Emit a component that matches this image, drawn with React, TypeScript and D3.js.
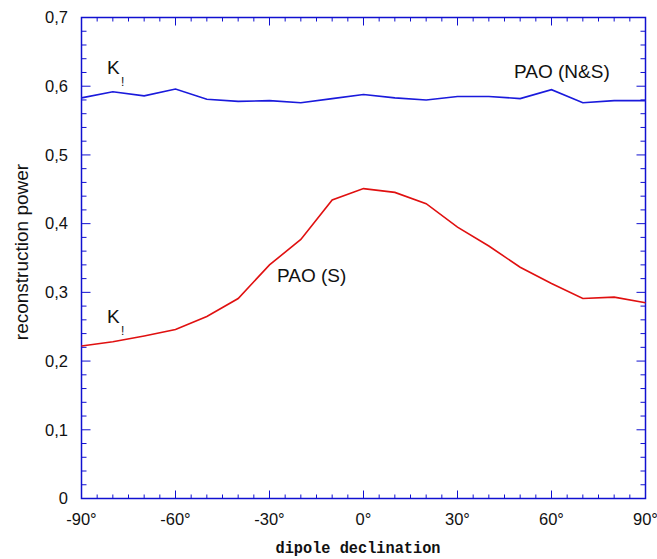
import React from "react";
import * as d3 from "d3";

const declinations = [-90, -80, -70, -60, -50, -40, -30, -20, -10, 0, 10, 20, 30, 40, 50, 60, 70, 80, 90];
const powerNS = [0.583, 0.592, 0.586, 0.596, 0.581, 0.578, 0.579, 0.576, 0.582, 0.588, 0.583, 0.580, 0.585, 0.585, 0.582, 0.595, 0.576, 0.579, 0.579];
const powerS = [0.222, 0.228, 0.2365, 0.246, 0.265, 0.291, 0.340, 0.377, 0.4345, 0.451, 0.4455, 0.429, 0.395, 0.3675, 0.3365, 0.313, 0.291, 0.293, 0.285];
const xTicks = [-90, -60, -30, 0, 30, 60, 90];
const yTicks = [0, 0.1, 0.2, 0.3, 0.4, 0.5, 0.6, 0.7];
const yTickLabels = ["0", "0,1", "0,2", "0,3", "0,4", "0,5", "0,6", "0,7"];

const W = 657, H = 559;
const L = 81.5, R = 645.5, T = 17.5, B = 498.5;
const AXIS = "#1010d0";

export default function App() {
  const x = d3.scaleLinear().domain([-90, 90]).range([L, R]);
  const y = d3.scaleLinear().domain([0, 0.7]).range([B, T]);
  const line = d3.line<number>().x((_, i) => x(declinations[i])).y((v) => y(v));
  const xMinor = d3.range(-90, 90.01, 5);
  const yMinor = d3.range(0, 0.7001, 0.02);
  const font = "Liberation Sans, Arial, sans-serif";
  return (
    <svg width={W} height={H} style={{ position: "absolute", left: 0, top: 0 }}>
      <rect x={0} y={0} width={W} height={H} fill="white" />
      <rect x={L} y={T} width={R - L} height={B - T} fill="none" stroke={AXIS} strokeWidth={1.5} />
      {xMinor.map((v) => {
        const major = Math.abs(v % 30) < 1e-6;
        const len = major ? 8 : 4;
        return (
          <g key={"xt" + v} stroke={AXIS} strokeWidth={1}>
            <line x1={x(v)} x2={x(v)} y1={B} y2={B - len} />
            <line x1={x(v)} x2={x(v)} y1={T} y2={T + len} />
          </g>
        );
      })}
      {yMinor.map((v, i) => {
        const major = i % 5 === 0;
        const len = major ? 9 : 5;
        return (
          <g key={"yt" + i} stroke={AXIS} strokeWidth={1}>
            <line x1={L} x2={L + len} y1={y(v)} y2={y(v)} />
            <line x1={R} x2={R - len} y1={y(v)} y2={y(v)} />
          </g>
        );
      })}
      {yTicks.map((v, i) => (
        <text key={"yl" + i} x={68} y={y(v)} dy="0.35em" textAnchor="end" fontFamily={font} fontSize={16.5} fill="#111">
          {yTickLabels[i]}
        </text>
      ))}
      {xTicks.map((v) => (
        <text key={"xl" + v} x={x(v)} y={525} textAnchor="middle" fontFamily={font} fontSize={16.5} fill="#111">
          {`${v}°`}
        </text>
      ))}
      <path d={line(powerNS) || ""} fill="none" stroke="#1a1adc" strokeWidth={1.6} />
      <path d={line(powerS) || ""} fill="none" stroke="#e01010" strokeWidth={1.6} />
      <text x={107} y={74} fontFamily={font} fontSize={19} fill="#111">K</text>
      <text x={121} y={86} fontFamily={font} fontSize={12} fill="#111">!</text>
      <text x={107} y={323} fontFamily={font} fontSize={19} fill="#111">K</text>
      <text x={121} y={335} fontFamily={font} fontSize={12} fill="#111">!</text>
      <text x={514} y={78} fontFamily={font} fontSize={19} fill="#111">PAO (N&amp;S)</text>
      <text x={277} y={282} fontFamily={font} fontSize={19} fill="#111">PAO (S)</text>
      <text x={358} y={553} textAnchor="middle" fontFamily="Liberation Mono, Courier New, monospace" fontWeight="bold" fontSize={16} textLength={165} lengthAdjust="spacingAndGlyphs" fill="#111">
        dipole declination
      </text>
      <text transform={`translate(28,252) rotate(-90)`} textAnchor="middle" fontFamily={font} fontSize={19} fill="#111">
        reconstruction power
      </text>
    </svg>
  );
}
